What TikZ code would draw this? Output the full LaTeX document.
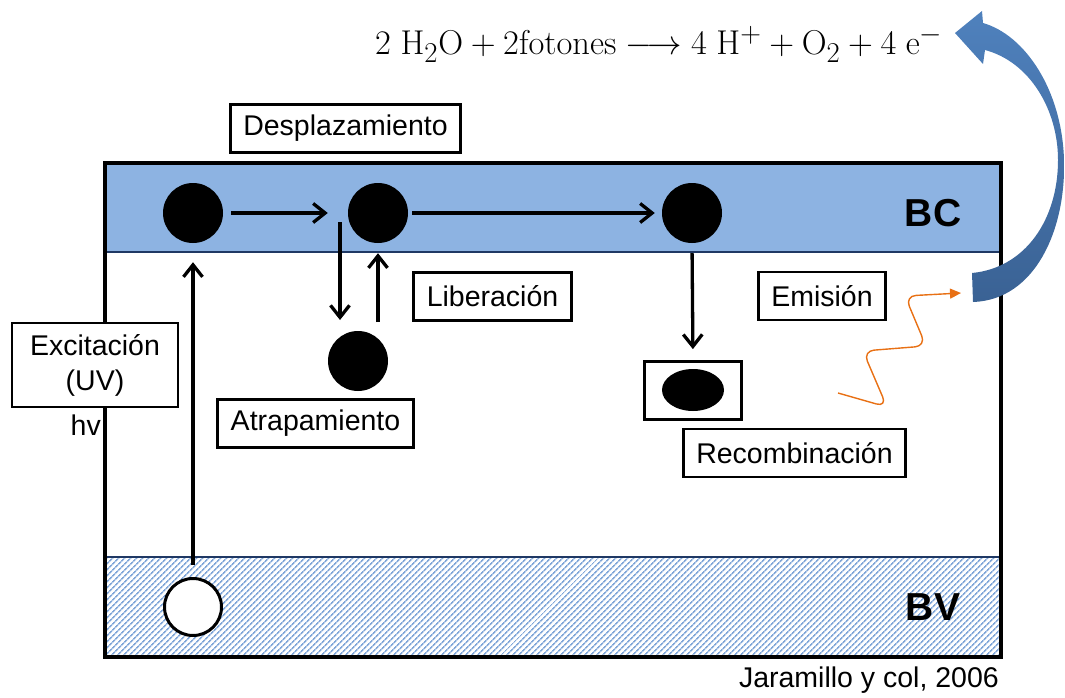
\documentclass[tikz,border=0pt]{standalone}
\usepackage{fontspec}
\newfontfamily\arialfont{Liberation Sans}
\usepackage{tikz}
\usetikzlibrary{shapes,arrows.meta,patterns.meta,calc}
\definecolor{bcblue}{RGB}{141,179,226}
\definecolor{bvblue}{RGB}{128,166,216}
\definecolor{bandline}{RGB}{31,56,100}
\definecolor{arrowtop}{RGB}{79,129,189}
\definecolor{arrowbot}{RGB}{58,98,148}
\definecolor{photon}{RGB}{232,112,20}

\begin{document}
\begin{tikzpicture}[x=1pt,y=-1pt]
		\tikzstyle{stage}=[draw,line width=2.8pt,fill=white,inner xsep=13pt,minimum height=48pt,font=\arialfont\fontsize{28.5}{35}\selectfont]
		\tikzstyle{electron}=[circle,minimum size=60pt,inner sep=0pt,fill=black]
		\tikzstyle{hole}=[circle,minimum size=57pt,inner sep=0pt,draw,line width=3pt,fill=white]
		\tikzstyle{flow}=[line width=3.3pt,-{Straight Barb[length=12pt,width=19pt]}]
		\tikzstyle{band}=[font=\arialfont\bfseries\fontsize{39}{46}\selectfont]
		\tikzstyle{wave}=[photon,line width=1.4pt,rounded corners=11pt,-{Triangle[length=11pt,width=10pt]}]
		
		\useasboundingbox (0,0) rectangle (1065,698);
		\fill[bcblue] (105,163) rectangle (1001,252);
		\fill[pattern={Lines[angle=45,distance=4pt,line width=1.7pt]},pattern color=bvblue] (105,557) rectangle (1001,657);
		\draw[bandline,line width=2pt] (105,252) -- (1001,252);
		\draw[bandline,line width=2pt] (105,557) -- (1001,557);
		\draw[line width=3.2pt] (105,163) rectangle (1001,657);
		
		\node[band] (bc) at (933,213) {BC};
		\node[band] (bv) at (933,607) {BV};
		
		\node[electron] (e1) at (193,213) {};
		\node[electron] (e2) at (378,213) {};
		\node[electron] (e3) at (692,213) {};
		\node[electron] (t) at (358,361) {};
		\node[hole] (h) at (193,607) {};
		\node[draw,line width=2.8pt,minimum width=97pt,minimum height=58pt] (rb) at (693,390.5) {};
		\node[ellipse,fill=black,minimum width=62pt,minimum height=42pt,inner sep=0pt] (r) at (693,390) {};
		
		\node[stage] (desp) at (345.5,128.5) {Desplazamiento};
		\node[stage] (lib) at (492.5,296.5) {Liberación};
		\node[stage] (atr) at (315.5,423.5) {Atrapamiento};
		\node[stage] (emi) at (822,296) {Emisión};
		\node[stage] (rec) at (794.5,453) {Recombinación};
		\node[stage,align=center,minimum width=166pt,minimum height=84pt,inner xsep=4pt] (exc) at (95,365) {Excitación\\(UV)};
		\node[anchor=base east,inner sep=0pt,font=\arialfont\fontsize{28.5}{35}\selectfont] (hv) at (101,435) {hv};
		
		\draw[flow,shorten <=8pt,shorten >=20pt] (e1) -- (e2);
		\draw[flow,shorten <=4pt,shorten >=7pt] (e2) -- (e3);
		\draw[flow] ($(e2)+(-38,9)$) -- ($(t)+(-18,-41)$);
		\draw[flow,shorten >=10pt] ($(t)+(20,-39)$) -- (e2.south);
		\draw[flow,shorten <=10pt,shorten >=11pt] (e3.south) -- (rb.north);
		\draw[flow,shorten <=12pt,shorten >=19pt] (h.north) -- (e1.south);
		
		\coordinate (w0) at (838,393);
		\coordinate (w1) at (961,293);
		\draw[wave] (w0) -- (887,407) -- (863,351) -- (926,346) -- (905,296) -- (w1);
		
		\node[anchor=base west,inner sep=0pt] (eq) at (375,55) {\scalebox{1.385}{\Huge$2\;\mathrm{H_2O}+2\mathrm{fotones}\longrightarrow 4\;\mathrm{H^+}+\mathrm{O_2}+4\;\mathrm{e^-}$}};
		\shade[top color=arrowtop,bottom color=arrowbot] (973,302) .. controls (1035,300) and (1066,230) .. (1064,160) .. controls (1062,90) and (1025,35) .. (983,23) -- (982,11) -- (955,33) -- (983,64) -- (985,50) .. controls (1030,62) and (1058,110) .. (1058,160) .. controls (1058,220) and (1025,268) .. (972,273) -- cycle;
		
		\node[anchor=base east,inner sep=0pt,font=\arialfont\fontsize{28.5}{35}\selectfont] (src) at (999,687) {Jaramillo y col, 2006};
\end{tikzpicture}
\end{document}
